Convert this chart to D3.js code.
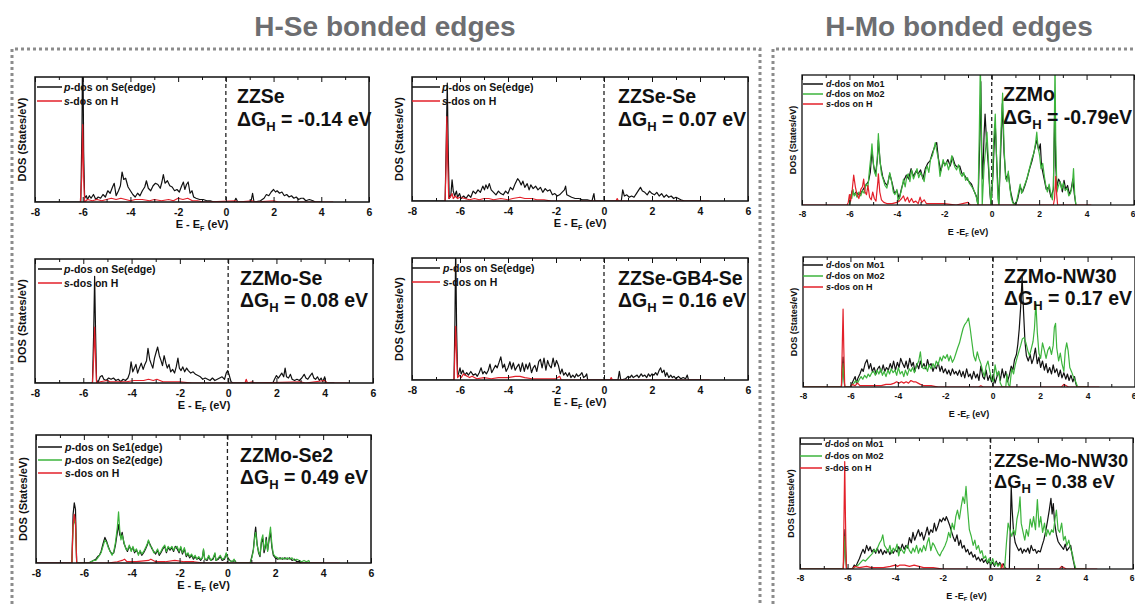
<!DOCTYPE html>
<html><head><meta charset="utf-8">
<script src="https://cdn.jsdelivr.net/npm/d3@7"></script>
<style>
body{margin:0;background:#fff}
svg{display:block}
text{font-family:"Liberation Sans",Arial,sans-serif;font-weight:bold}
</style>
</head><body>
<svg id="c" width="1135" height="604"></svg>
<script>
// ---------------- DATA (energy eV, DOS in % of panel height) ----------------
const groupTitles = ["H-Se bonded edges", "H-Mo bonded edges"];
const panelNames = ["ZZSe","ZZSe-Se","ZZMo-Se","ZZSe-GB4-Se","ZZMo-Se2","ZZMo","ZZMo-NW30","ZZSe-Mo-NW30"];
const deltaG = ["-0.14 eV","0.07 eV","0.08 eV","0.16 eV","0.49 eV","-0.79eV","0.17 eV","0.38 eV"];
const majorTicks = [-8,-6,-4,-2,0,2,4,6];
const minorTicks = [-7,-5,-3,-1,1,3,5];
const energyRange = [-8, 6];

const zzse_p = [[-8,0],[-6.08,0],[-6.03,60],[-6.0,140],[-5.96,40],[-5.92,3],[-5.85,5],[-5.8,2],[-5.72,5],[-5.65,3],[-5.55,6],[-5.45,2],[-5.35,4],[-5.25,3],[-5.15,6],[-5.05,4],[-4.95,9],[-4.85,7],[-4.75,12],[-4.68,15],[-4.6,5],[-4.5,9],[-4.42,13],[-4.35,24],[-4.28,18],[-4.2,19],[-4.1,12],[-4.0,9],[-3.9,6],[-3.8,4],[-3.7,7],[-3.6,5],[-3.5,9],[-3.4,12],[-3.33,17],[-3.25,11],[-3.15,9],[-3.05,13],[-2.95,15],[-2.85,14],[-2.75,11],[-2.68,16],[-2.62,22],[-2.55,15],[-2.45,17],[-2.35,13],[-2.25,12],[-2.15,9],[-2.05,10],[-1.95,8],[-1.85,13],[-1.78,16],[-1.72,10],[-1.65,14],[-1.58,16],[-1.5,7],[-1.42,9],[-1.35,4],[-1.25,3],[-1.1,2],[-0.95,2],[-0.8,1],[-0.65,1],[-0.5,0],[0.35,0],[0.42,3],[0.5,0],[1.05,0],[1.12,7],[1.18,0],[1.45,1],[1.6,3],[1.7,6],[1.8,5],[1.9,8],[2.0,10],[2.08,8],[2.15,9],[2.25,7],[2.35,8],[2.45,5],[2.55,6],[2.65,4],[2.75,5],[2.85,3],[2.95,4],[3.05,2],[3.15,3],[3.25,3],[3.35,1],[3.5,2],[3.65,1],[3.75,0],[4.0,0]];
const zzse_s = [[-6.1,0],[-6.04,20],[-6.0,62],[-5.96,20],[-5.92,0],[-5.8,2],[-5.6,1],[-5.4,2],[-5.2,1],[-5.0,2],[-4.8,3],[-4.6,2],[-4.4,3],[-4.2,2],[-4.0,1],[-3.8,2],[-3.5,2],[-3.2,1],[-3.0,2],[-2.7,1],[-2.4,2],[-2.2,1],[-2.0,3],[-1.8,2],[-1.6,3],[-1.4,1],[-1.2,1],[-0.9,0],[0.4,1],[0.5,0],[1.1,1],[1.2,0],[2.0,1],[2.2,0],[4.5,0]];

const zzsese_p = [[-8,0],[-6.62,0],[-6.57,50],[-6.53,95],[-6.49,40],[-6.45,2],[-6.38,5],[-6.33,17],[-6.28,8],[-6.22,4],[-6.15,8],[-6.1,3],[-6.02,6],[-5.95,2],[-5.85,4],[-5.75,2],[-5.65,5],[-5.55,3],[-5.45,8],[-5.35,6],[-5.25,9],[-5.15,7],[-5.05,12],[-4.98,9],[-4.92,13],[-4.85,10],[-4.78,14],[-4.7,9],[-4.6,7],[-4.5,5],[-4.4,8],[-4.3,6],[-4.2,5],[-4.1,8],[-4.0,6],[-3.9,11],[-3.8,9],[-3.7,14],[-3.6,18],[-3.52,16],[-3.45,13],[-3.38,16],[-3.3,11],[-3.2,14],[-3.12,9],[-3.05,13],[-2.95,10],[-2.85,12],[-2.75,9],[-2.65,11],[-2.55,7],[-2.45,10],[-2.35,8],[-2.25,9],[-2.15,5],[-2.05,6],[-1.95,4],[-1.85,5],[-1.75,7],[-1.65,9],[-1.6,12],[-1.55,5],[-1.45,4],[-1.35,3],[-1.2,2],[-1.05,2],[-0.9,1],[-0.7,1],[-0.5,0],[-0.45,4],[-0.42,6],[-0.38,0],[0.72,0],[0.78,9],[0.85,4],[0.95,5],[1.05,3],[1.15,4],[1.25,3],[1.35,6],[1.45,9],[1.52,11],[1.6,8],[1.7,7],[1.8,5],[1.9,8],[2.0,6],[2.1,5],[2.2,7],[2.3,4],[2.4,6],[2.5,3],[2.6,5],[2.7,3],[2.8,4],[2.9,2],[3.0,3],[3.1,2],[3.2,1],[3.35,0],[4.0,0]];
const zzsese_s = [[-6.62,0],[-6.58,30],[-6.55,68],[-6.51,30],[-6.47,2],[-6.4,3],[-6.33,6],[-6.28,2],[-6.2,4],[-6.1,2],[-6.0,3],[-5.8,2],[-5.6,1],[-5.4,2],[-5.2,1],[-5.0,2],[-4.8,2],[-4.6,1],[-4.3,2],[-4.0,1],[-3.8,2],[-3.5,3],[-3.3,2],[-3.0,2],[-2.8,1],[-2.5,1],[-2.2,0],[0.5,0],[0.55,2],[0.6,0],[4.4,0]];

const zzmose_p = [[-8,0],[-5.62,0],[-5.57,40],[-5.53,86],[-5.49,40],[-5.45,2],[-5.38,1],[-5.3,5],[-5.22,6],[-5.15,3],[-5.05,2],[-4.95,4],[-4.85,3],[-4.75,4],[-4.65,2],[-4.55,3],[-4.45,1],[-4.35,3],[-4.25,2],[-4.15,4],[-4.08,8],[-4.02,17],[-3.95,9],[-3.88,12],[-3.82,15],[-3.75,8],[-3.68,12],[-3.6,16],[-3.52,11],[-3.45,15],[-3.38,18],[-3.32,28],[-3.25,19],[-3.18,15],[-3.12,12],[-3.05,20],[-2.98,25],[-2.92,29],[-2.85,22],[-2.78,18],[-2.72,14],[-2.65,22],[-2.58,16],[-2.52,12],[-2.45,15],[-2.38,9],[-2.3,11],[-2.22,8],[-2.15,13],[-2.08,20],[-2.02,12],[-1.95,10],[-1.88,13],[-1.8,9],[-1.72,12],[-1.65,10],[-1.55,8],[-1.45,9],[-1.35,7],[-1.25,6],[-1.15,5],[-1.05,3],[-0.95,4],[-0.85,3],[-0.75,2],[-0.65,4],[-0.55,2],[-0.45,3],[-0.35,4],[-0.25,5],[-0.15,3],[-0.08,8],[-0.02,10],[0.05,6],[0.12,1],[0.2,0],[1.85,0],[1.92,3],[2.0,6],[2.08,4],[2.15,6],[2.22,8],[2.3,5],[2.36,12],[2.42,5],[2.5,4],[2.58,7],[2.65,3],[2.75,2],[2.85,3],[2.95,2],[3.05,4],[3.15,7],[3.22,4],[3.3,3],[3.4,6],[3.48,8],[3.55,4],[3.62,3],[3.7,5],[3.78,2],[3.85,4],[3.92,1],[4.0,5],[4.05,0],[4.4,0]];
const zzmose_s = [[-5.62,0],[-5.57,20],[-5.53,45],[-5.49,20],[-5.45,0],[-5.3,1],[-5.0,2],[-4.9,1],[-4.6,1],[-4.2,1],[-3.9,2],[-3.5,2],[-3.3,3],[-3.1,2],[-2.95,3],[-2.7,1],[-2.4,1],[-2.0,1],[-1.5,0],[0.7,0],[0.75,3],[0.8,0],[1.0,1],[1.1,0],[3.0,1],[3.2,0],[4.0,2],[4.1,0],[5.0,0]];

const gb4_p = [[-8,0],[-6.25,0],[-6.21,50],[-6.18,110],[-6.14,40],[-6.1,3],[-6.05,6],[-6.0,10],[-5.95,5],[-5.88,8],[-5.8,4],[-5.72,6],[-5.65,4],[-5.55,7],[-5.45,4],[-5.35,5],[-5.28,3],[-5.2,6],[-5.12,10],[-5.05,5],[-4.98,7],[-4.9,5],[-4.82,8],[-4.75,13],[-4.68,6],[-4.6,9],[-4.52,12],[-4.45,10],[-4.38,14],[-4.3,19],[-4.22,10],[-4.15,13],[-4.08,7],[-4.0,10],[-3.92,15],[-3.85,9],[-3.78,14],[-3.7,8],[-3.62,11],[-3.55,13],[-3.48,7],[-3.4,14],[-3.32,7],[-3.25,13],[-3.18,9],[-3.1,14],[-3.02,6],[-2.95,10],[-2.88,12],[-2.8,7],[-2.72,15],[-2.65,17],[-2.58,10],[-2.5,18],[-2.42,8],[-2.35,16],[-2.28,12],[-2.2,10],[-2.12,18],[-2.05,11],[-1.98,16],[-1.9,12],[-1.82,5],[-1.75,9],[-1.68,4],[-1.6,6],[-1.52,3],[-1.45,6],[-1.38,2],[-1.3,4],[-1.22,2],[-1.15,5],[-1.08,3],[-1.0,4],[-0.92,6],[-0.85,2],[-0.78,3],[-0.72,5],[-0.68,0],[0.58,0],[0.64,7],[0.7,0],[0.9,1],[1.0,3],[1.08,2],[1.15,4],[1.22,2],[1.3,3],[1.38,4],[1.45,2],[1.55,5],[1.62,3],[1.7,4],[1.78,2],[1.85,5],[1.92,3],[2.0,5],[2.08,4],[2.15,6],[2.22,4],[2.3,8],[2.36,10],[2.42,6],[2.5,8],[2.56,3],[2.62,6],[2.7,2],[2.78,4],[2.85,2],[2.92,3],[3.0,1],[3.1,3],[3.2,1],[3.3,2],[3.4,1],[3.47,4],[3.52,0],[4.0,0]];
const gb4_s = [[-6.25,0],[-6.21,25],[-6.18,44],[-6.14,20],[-6.1,2],[-6.02,4],[-5.95,2],[-5.85,5],[-5.78,4],[-5.7,3],[-5.6,2],[-5.5,3],[-5.3,1],[-5.0,2],[-4.7,1],[-4.4,2],[-4.0,2],[-3.7,3],[-3.5,3],[-3.3,2],[-3.0,1],[-2.5,1],[-2.0,1],[-1.85,3],[-1.78,0],[0.25,0],[0.3,2],[0.35,0],[4.4,0]];

const se2_p1 = [[-8,0],[-6.5,0],[-6.45,38],[-6.4,47],[-6.35,42],[-6.3,0],[-5.8,0],[-5.7,1],[-5.6,2],[-5.5,3],[-5.42,5],[-5.35,6],[-5.28,9],[-5.2,15],[-5.12,20],[-5.05,17],[-4.98,13],[-4.9,9],[-4.82,7],[-4.75,8],[-4.68,14],[-4.6,24],[-4.55,30],[-4.5,22],[-4.45,20],[-4.4,24],[-4.32,15],[-4.25,12],[-4.18,9],[-4.1,13],[-4.02,10],[-3.95,12],[-3.88,8],[-3.8,10],[-3.72,7],[-3.65,9],[-3.58,6],[-3.5,8],[-3.42,11],[-3.35,14],[-3.3,17],[-3.22,14],[-3.15,11],[-3.08,9],[-3.0,7],[-2.92,10],[-2.85,6],[-2.78,8],[-2.7,11],[-2.62,13],[-2.55,8],[-2.48,12],[-2.4,10],[-2.32,12],[-2.25,9],[-2.18,13],[-2.1,11],[-2.02,8],[-1.95,12],[-1.88,7],[-1.8,11],[-1.72,5],[-1.65,7],[-1.58,4],[-1.5,6],[-1.42,3],[-1.35,5],[-1.28,3],[-1.2,4],[-1.12,2],[-1.05,4],[-1.0,10],[-0.95,3],[-0.85,2],[-0.78,5],[-0.7,2],[-0.6,3],[-0.52,7],[-0.48,2],[-0.38,3],[-0.3,5],[-0.22,2],[-0.12,3],[-0.05,7],[0.02,4],[0.1,2],[0.2,1],[0.3,2],[0.38,0],[0.95,0],[1.02,5],[1.08,10],[1.14,22],[1.18,28],[1.24,15],[1.3,8],[1.36,5],[1.42,16],[1.48,19],[1.53,8],[1.58,12],[1.62,20],[1.68,10],[1.74,18],[1.8,24],[1.86,12],[1.92,6],[2.0,4],[2.1,3],[2.2,4],[2.3,3],[2.4,4],[2.5,3],[2.6,4],[2.7,2],[2.8,3],[2.9,1],[3.0,1],[3.1,0],[4.0,0]];
const se2_p2 = [[-6.5,0],[-6.45,28],[-6.4,34],[-6.35,30],[-6.3,0],[-5.8,0],[-5.7,1],[-5.6,2],[-5.5,2],[-5.42,4],[-5.35,6],[-5.28,8],[-5.2,13],[-5.12,18],[-5.05,16],[-4.98,12],[-4.9,9],[-4.82,6],[-4.75,9],[-4.68,16],[-4.6,28],[-4.55,40],[-4.5,26],[-4.45,18],[-4.4,22],[-4.32,16],[-4.25,11],[-4.18,10],[-4.1,14],[-4.02,9],[-3.95,13],[-3.88,9],[-3.8,11],[-3.72,6],[-3.65,10],[-3.58,7],[-3.5,9],[-3.42,12],[-3.35,15],[-3.3,18],[-3.22,13],[-3.15,12],[-3.08,8],[-3.0,8],[-2.92,11],[-2.85,7],[-2.78,9],[-2.7,12],[-2.62,14],[-2.55,9],[-2.48,13],[-2.4,11],[-2.32,13],[-2.25,10],[-2.18,12],[-2.1,13],[-2.02,9],[-1.95,13],[-1.88,8],[-1.8,12],[-1.72,6],[-1.65,8],[-1.58,5],[-1.5,7],[-1.42,4],[-1.35,6],[-1.28,3],[-1.2,5],[-1.12,3],[-1.05,4],[-1.0,11],[-0.95,3],[-0.85,3],[-0.78,6],[-0.7,2],[-0.6,4],[-0.52,8],[-0.48,2],[-0.38,4],[-0.3,6],[-0.22,3],[-0.12,4],[-0.05,8],[0.02,3],[0.1,2],[0.2,1],[0.28,3],[0.35,0],[0.95,0],[1.02,4],[1.08,9],[1.14,20],[1.18,24],[1.24,14],[1.3,9],[1.36,6],[1.42,18],[1.48,22],[1.53,10],[1.58,14],[1.62,18],[1.68,9],[1.74,20],[1.8,28],[1.86,14],[1.92,7],[2.0,5],[2.1,4],[2.2,3],[2.3,4],[2.4,3],[2.5,4],[2.6,3],[2.7,4],[2.8,2],[2.9,3],[3.0,2],[3.1,1],[3.2,2],[3.3,1],[3.4,2],[3.45,0]];
const se2_s = [[-8,0],[-6.5,0],[-6.45,30],[-6.4,38],[-6.35,32],[-6.3,0],[-5.0,0],[-4.6,1],[-4.4,2],[-4.3,3],[-4.2,1],[-3.8,1],[-3.3,2],[-3.2,3],[-3.0,1],[-2.6,1],[-2.2,2],[-1.8,1],[-1.4,1],[-1.0,0],[4.7,0]];

const zzmo_d1 = [[-6.0,0],[-5.95,6],[-5.88,11],[-5.8,8],[-5.72,10],[-5.62,8],[-5.52,9],[-5.42,12],[-5.32,15],[-5.2,18],[-5.12,25],[-5.05,42],[-4.98,30],[-4.9,24],[-4.82,35],[-4.78,50],[-4.7,32],[-4.6,22],[-4.5,17],[-4.4,15],[-4.3,24],[-4.2,17],[-4.1,9],[-4.0,11],[-3.9,5],[-3.8,13],[-3.7,19],[-3.6,23],[-3.5,20],[-3.4,28],[-3.3,22],[-3.2,26],[-3.1,24],[-3.0,27],[-2.9,20],[-2.8,28],[-2.7,32],[-2.6,34],[-2.5,40],[-2.4,45],[-2.32,48],[-2.25,36],[-2.15,26],[-2.05,33],[-1.95,31],[-1.85,35],[-1.75,30],[-1.65,37],[-1.55,31],[-1.45,29],[-1.35,30],[-1.25,24],[-1.15,23],[-1.05,20],[-0.95,18],[-0.85,16],[-0.75,11],[-0.65,7],[-0.58,0],[-0.5,50],[-0.46,95],[-0.42,40],[-0.38,20],[-0.32,55],[-0.28,70],[-0.22,50],[-0.14,30],[-0.08,10],[-0.03,0],[0.05,22],[0.1,45],[0.15,62],[0.22,30],[0.3,0],[0.38,42],[0.45,78],[0.52,40],[0.6,20],[0.7,24],[0.8,10],[0.9,2],[1.0,0],[1.1,5],[1.2,14],[1.3,10],[1.4,15],[1.5,21],[1.6,28],[1.7,34],[1.8,42],[1.9,50],[1.98,42],[2.05,47],[2.1,30],[2.2,21],[2.3,12],[2.4,14],[2.5,6],[2.6,12],[2.66,80],[2.7,30],[2.75,14],[2.82,20],[2.9,17],[2.98,10],[3.05,19],[3.12,12],[3.2,15],[3.28,8],[3.35,12],[3.42,20],[3.48,9],[3.55,0]];
const zzmo_d2 = [[-6.0,0],[-5.95,8],[-5.9,5],[-5.85,12],[-5.8,7],[-5.75,9],[-5.68,6],[-5.6,10],[-5.52,7],[-5.45,11],[-5.38,9],[-5.3,16],[-5.22,14],[-5.15,28],[-5.08,40],[-5.05,47],[-5.0,34],[-4.95,26],[-4.88,22],[-4.82,38],[-4.78,55],[-4.72,36],[-4.65,24],[-4.58,20],[-4.5,15],[-4.42,13],[-4.35,20],[-4.3,25],[-4.22,18],[-4.15,10],[-4.08,8],[-4.0,12],[-3.95,3],[-3.88,6],[-3.8,12],[-3.72,20],[-3.65,14],[-3.58,22],[-3.52,24],[-3.45,18],[-3.38,27],[-3.3,20],[-3.22,24],[-3.15,28],[-3.08,21],[-3.0,25],[-2.92,22],[-2.85,18],[-2.78,27],[-2.72,30],[-2.65,25],[-2.58,35],[-2.5,38],[-2.45,42],[-2.38,48],[-2.3,40],[-2.25,35],[-2.18,22],[-2.12,28],[-2.05,35],[-1.98,30],[-1.9,33],[-1.82,27],[-1.75,32],[-1.68,38],[-1.62,33],[-1.55,29],[-1.48,27],[-1.4,31],[-1.32,24],[-1.25,22],[-1.18,25],[-1.1,19],[-1.02,21],[-0.95,17],[-0.88,15],[-0.8,13],[-0.72,10],[-0.65,6],[-0.58,0],[-0.52,60],[-0.48,110],[-0.44,60],[-0.4,0],[-0.32,30],[-0.25,45],[-0.2,56],[-0.14,35],[-0.08,12],[-0.03,0],[0.03,18],[0.08,48],[0.15,70],[0.2,38],[0.26,5],[0.3,0],[0.36,40],[0.42,70],[0.46,86],[0.52,45],[0.58,22],[0.64,18],[0.7,26],[0.76,14],[0.82,6],[0.88,2],[0.95,0],[1.05,3],[1.12,9],[1.2,16],[1.26,9],[1.32,12],[1.4,16],[1.48,20],[1.55,25],[1.62,30],[1.7,36],[1.78,40],[1.85,48],[1.9,56],[1.95,45],[2.02,38],[2.08,28],[2.15,32],[2.22,22],[2.28,15],[2.35,10],[2.42,16],[2.5,8],[2.56,4],[2.6,15],[2.64,60],[2.67,110],[2.7,50],[2.75,10],[2.8,14],[2.88,18],[2.95,12],[3.02,17],[3.1,11],[3.18,13],[3.25,7],[3.32,9],[3.4,15],[3.45,28],[3.5,8],[3.55,0]];
const zzmo_s = [[-8,0],[-6.1,0],[-6.05,2],[-6.0,8],[-5.95,3],[-5.88,12],[-5.82,23],[-5.75,14],[-5.68,8],[-5.6,5],[-5.52,12],[-5.45,14],[-5.4,20],[-5.34,10],[-5.28,8],[-5.22,15],[-5.15,6],[-5.08,4],[-5.02,10],[-4.95,5],[-4.88,3],[-4.8,18],[-4.78,24],[-4.72,10],[-4.65,4],[-4.55,2],[-4.4,1],[-4.2,1],[-4.0,2],[-3.9,3],[-3.8,5],[-3.72,7],[-3.65,3],[-3.55,6],[-3.48,2],[-3.38,5],[-3.3,2],[-3.2,3],[-3.1,1],[-3.02,6],[-2.95,2],[-2.85,4],[-2.75,1],[-2.5,1],[-2.0,1],[-1.5,0],[-1.0,2],[-0.9,0],[2.6,0],[2.65,5],[2.7,22],[2.74,8],[2.78,0],[4.2,0]];

const nw30_d1 = [[-8,0],[-6.38,0],[-6.34,15],[-6.31,23],[-6.28,10],[-6.24,0],[-6.0,0],[-5.95,2],[-5.88,5],[-5.8,8],[-5.75,3],[-5.68,7],[-5.6,10],[-5.52,14],[-5.46,12],[-5.38,18],[-5.3,21],[-5.22,14],[-5.15,18],[-5.08,12],[-5.0,15],[-4.92,10],[-4.85,14],[-4.78,16],[-4.7,11],[-4.62,17],[-4.55,12],[-4.48,15],[-4.4,13],[-4.32,18],[-4.25,14],[-4.18,20],[-4.1,13],[-4.02,19],[-3.95,15],[-3.88,22],[-3.8,18],[-3.72,15],[-3.65,20],[-3.58,14],[-3.5,22],[-3.42,16],[-3.35,19],[-3.28,12],[-3.2,18],[-3.12,14],[-3.05,20],[-2.98,15],[-2.9,18],[-2.82,14],[-2.75,21],[-2.68,16],[-2.6,18],[-2.52,12],[-2.45,16],[-2.38,14],[-2.3,19],[-2.22,12],[-2.15,16],[-2.08,11],[-2.0,14],[-1.92,10],[-1.85,13],[-1.78,9],[-1.7,14],[-1.62,10],[-1.55,12],[-1.48,9],[-1.4,13],[-1.32,8],[-1.25,12],[-1.18,7],[-1.1,14],[-1.02,8],[-0.95,10],[-0.88,6],[-0.8,12],[-0.72,7],[-0.65,10],[-0.58,5],[-0.5,16],[-0.42,8],[-0.35,6],[-0.28,13],[-0.2,5],[-0.12,9],[-0.05,4],[0.02,10],[0.1,3],[0.18,8],[0.25,12],[0.32,5],[0.4,14],[0.48,7],[0.55,12],[0.62,4],[0.7,9],[0.78,16],[0.85,13],[0.92,21],[1.0,25],[1.06,33],[1.12,45],[1.18,62],[1.24,85],[1.3,58],[1.36,35],[1.42,24],[1.5,20],[1.58,25],[1.65,18],[1.72,22],[1.8,30],[1.88,18],[1.95,23],[2.02,15],[2.1,20],[2.18,13],[2.25,18],[2.32,11],[2.4,15],[2.48,10],[2.55,17],[2.62,11],[2.7,14],[2.78,8],[2.85,13],[2.92,7],[3.0,11],[3.08,6],[3.15,10],[3.22,5],[3.3,9],[3.38,4],[3.45,8],[3.5,3],[3.55,0],[4.0,0]];
const nw30_d2 = [[-8,0],[-6.38,0],[-6.34,12],[-6.31,18],[-6.28,8],[-6.24,0],[-6.0,0],[-5.92,2],[-5.85,3],[-5.78,5],[-5.7,3],[-5.62,6],[-5.55,8],[-5.48,6],[-5.4,9],[-5.32,7],[-5.25,10],[-5.18,8],[-5.1,11],[-5.02,12],[-4.95,9],[-4.88,13],[-4.8,10],[-4.72,14],[-4.65,9],[-4.58,12],[-4.5,8],[-4.42,13],[-4.35,10],[-4.28,14],[-4.2,11],[-4.12,13],[-4.05,9],[-3.98,15],[-3.9,10],[-3.82,12],[-3.75,8],[-3.68,13],[-3.6,9],[-3.52,14],[-3.45,12],[-3.38,15],[-3.3,11],[-3.22,16],[-3.12,20],[-3.05,27],[-2.98,15],[-2.9,14],[-2.82,16],[-2.75,12],[-2.68,17],[-2.6,14],[-2.52,18],[-2.45,15],[-2.38,20],[-2.3,17],[-2.22,23],[-2.15,20],[-2.08,24],[-2.0,22],[-1.92,25],[-1.85,20],[-1.78,24],[-1.7,19],[-1.62,22],[-1.55,26],[-1.48,30],[-1.4,34],[-1.32,40],[-1.25,45],[-1.18,48],[-1.1,50],[-1.02,53],[-0.95,45],[-0.88,35],[-0.8,24],[-0.72,20],[-0.65,27],[-0.58,22],[-0.5,18],[-0.42,12],[-0.35,8],[-0.28,16],[-0.2,20],[-0.12,12],[-0.05,6],[0.02,4],[0.1,17],[0.18,9],[0.25,12],[0.32,3],[0.4,0],[0.55,0],[0.6,10],[0.66,2],[0.72,0],[0.8,14],[0.88,10],[0.95,17],[1.02,22],[1.1,27],[1.18,32],[1.25,37],[1.32,38],[1.4,34],[1.48,28],[1.55,24],[1.62,29],[1.7,35],[1.76,45],[1.82,65],[1.88,42],[1.95,26],[2.02,22],[2.1,34],[2.18,28],[2.25,22],[2.32,28],[2.4,31],[2.48,25],[2.55,32],[2.6,46],[2.65,49],[2.7,30],[2.78,20],[2.85,26],[2.92,18],[3.0,12],[3.06,28],[3.12,34],[3.18,28],[3.25,15],[3.32,12],[3.4,8],[3.5,4],[3.58,0],[4.0,0]];
const nw30_s = [[-8,0],[-6.38,0],[-6.34,35],[-6.31,60],[-6.28,30],[-6.24,0],[-6.0,0],[-5.92,2],[-5.8,1],[-5.7,3],[-5.6,1],[-5.3,1],[-5.0,1],[-4.7,1],[-4.5,2],[-4.3,2],[-4.15,3],[-4.05,4],[-3.95,3],[-3.85,4],[-3.75,3],[-3.65,4],[-3.55,3],[-3.45,5],[-3.35,4],[-3.25,4],[-3.15,3],[-3.05,2],[-2.9,1],[-2.6,1],[-2.3,0],[-0.6,0],[-0.5,1],[-0.4,0],[2.9,0],[3.0,2],[3.1,1],[3.2,0],[4.5,0]];

const senw_d1 = [[-8,0],[-6.18,0],[-6.14,18],[-6.11,30],[-6.08,12],[-6.04,0],[-5.8,0],[-5.72,3],[-5.65,2],[-5.58,5],[-5.5,8],[-5.42,12],[-5.35,15],[-5.28,12],[-5.2,18],[-5.12,14],[-5.05,17],[-4.98,13],[-4.9,15],[-4.82,12],[-4.75,16],[-4.68,12],[-4.6,15],[-4.52,11],[-4.45,14],[-4.38,12],[-4.3,15],[-4.22,11],[-4.15,14],[-4.08,12],[-4.0,15],[-3.92,13],[-3.85,17],[-3.78,14],[-3.7,19],[-3.62,15],[-3.55,18],[-3.48,16],[-3.4,24],[-3.32,20],[-3.25,28],[-3.18,22],[-3.1,26],[-3.02,30],[-2.95,25],[-2.88,28],[-2.8,22],[-2.72,27],[-2.65,32],[-2.58,26],[-2.5,30],[-2.42,28],[-2.35,35],[-2.28,29],[-2.2,33],[-2.12,38],[-2.05,36],[-1.98,39],[-1.9,37],[-1.85,40],[-1.78,37],[-1.7,33],[-1.62,28],[-1.55,24],[-1.48,21],[-1.4,26],[-1.32,18],[-1.25,22],[-1.18,16],[-1.1,18],[-1.02,13],[-0.95,15],[-0.88,11],[-0.8,13],[-0.72,9],[-0.65,11],[-0.58,7],[-0.5,9],[-0.42,6],[-0.35,8],[-0.28,5],[-0.2,7],[-0.12,4],[-0.05,6],[0.02,3],[0.1,5],[0.18,2],[0.25,6],[0.32,3],[0.4,5],[0.48,2],[0.55,4],[0.62,1],[0.7,0],[0.8,0],[0.84,30],[0.88,63],[0.92,45],[0.98,28],[1.05,20],[1.12,17],[1.2,14],[1.28,16],[1.35,12],[1.42,15],[1.5,13],[1.58,16],[1.65,12],[1.72,18],[1.8,14],[1.88,15],[1.95,12],[2.02,14],[2.1,13],[2.18,18],[2.25,22],[2.32,28],[2.4,36],[2.48,45],[2.55,54],[2.6,42],[2.65,50],[2.7,36],[2.78,26],[2.85,21],[2.92,19],[3.0,17],[3.08,15],[3.15,19],[3.22,14],[3.3,16],[3.38,18],[3.45,10],[3.52,4],[3.56,0],[4.0,0]];
const senw_d2 = [[-8,0],[-6.18,0],[-6.14,15],[-6.11,25],[-6.08,10],[-6.04,0],[-5.8,0],[-5.65,2],[-5.55,3],[-5.45,5],[-5.35,7],[-5.25,6],[-5.15,8],[-5.05,10],[-4.95,12],[-4.88,15],[-4.8,13],[-4.72,17],[-4.65,20],[-4.58,22],[-4.52,26],[-4.45,18],[-4.38,16],[-4.3,13],[-4.22,18],[-4.15,12],[-4.08,16],[-4.0,14],[-3.92,19],[-3.85,10],[-3.78,16],[-3.7,14],[-3.62,12],[-3.55,16],[-3.48,18],[-3.4,14],[-3.32,12],[-3.25,16],[-3.18,13],[-3.1,18],[-3.02,12],[-2.95,16],[-2.88,13],[-2.8,18],[-2.72,14],[-2.65,20],[-2.58,24],[-2.5,14],[-2.42,20],[-2.35,18],[-2.28,15],[-2.2,12],[-2.12,10],[-2.05,13],[-1.98,15],[-1.9,18],[-1.82,22],[-1.75,28],[-1.68,24],[-1.6,35],[-1.52,30],[-1.45,40],[-1.38,45],[-1.3,38],[-1.22,48],[-1.15,55],[-1.08,50],[-1.02,63],[-0.95,45],[-0.88,30],[-0.8,25],[-0.72,18],[-0.65,22],[-0.58,15],[-0.5,18],[-0.42,12],[-0.35,14],[-0.28,8],[-0.2,10],[-0.12,5],[-0.05,8],[0.02,3],[0.1,8],[0.18,3],[0.25,5],[0.32,2],[0.4,4],[0.48,0],[0.6,0],[0.68,20],[0.75,35],[0.82,30],[0.9,25],[0.98,30],[1.05,26],[1.12,38],[1.2,45],[1.25,55],[1.3,35],[1.38,28],[1.45,22],[1.52,30],[1.6,25],[1.68,38],[1.75,32],[1.82,40],[1.9,30],[1.98,53],[2.05,32],[2.12,40],[2.2,28],[2.28,35],[2.35,25],[2.42,30],[2.5,26],[2.58,30],[2.65,28],[2.72,38],[2.78,45],[2.85,30],[2.92,28],[3.0,35],[3.08,22],[3.15,25],[3.22,18],[3.3,22],[3.38,15],[3.45,12],[3.52,5],[3.6,0],[4.0,0]];
const senw_s = [[-8,0],[-6.18,0],[-6.15,40],[-6.12,82],[-6.09,40],[-6.05,0],[-5.8,0],[-5.7,2],[-5.5,1],[-5.2,2],[-5.0,1],[-4.5,1],[-4.2,2],[-4.0,3],[-3.9,2],[-3.8,3],[-3.6,3],[-3.4,2],[-3.2,3],[-3.0,2],[-2.8,1],[-2.4,1],[-2.0,0],[0.45,0],[0.5,4],[0.55,0],[2.9,0],[3.0,2],[3.1,1],[3.2,0],[4.5,0]];

// legend labels: [italic prefix, rest]
const legendSe = [["p","-dos on Se(edge)"],["s","-dos on H"]];
const legendSe2 = [["p","-dos on Se1(edge)"],["p","-dos on Se2(edge)"],["s","-dos on H"]];
const legendMo = [["d","-dos on Mo1"],["d","-dos on Mo2"],["s","-dos on H"]];

// ---------------- STYLE / LAYOUT ----------------
const BLACK = "#111", RED = "#e3202a", GREEN = "#3cb43c", GRAY = "#6d6e71";

const seriesByPanel = [
  [[zzse_p,BLACK],[zzse_s,RED]],
  [[zzsese_p,BLACK],[zzsese_s,RED]],
  [[zzmose_p,BLACK],[zzmose_s,RED]],
  [[gb4_p,BLACK],[gb4_s,RED]],
  [[se2_p1,BLACK],[se2_p2,GREEN],[se2_s,RED]],
  [[zzmo_d1,BLACK],[zzmo_d2,GREEN],[zzmo_s,RED]],
  [[nw30_d1,BLACK],[nw30_d2,GREEN],[nw30_s,RED]],
  [[senw_d1,BLACK],[senw_d2,GREEN],[senw_s,RED]]
];
const legendByPanel = [
  [[legendSe[0],BLACK],[legendSe[1],RED]],
  [[legendSe[0],BLACK],[legendSe[1],RED]],
  [[legendSe[0],BLACK],[legendSe[1],RED]],
  [[legendSe[0],BLACK],[legendSe[1],RED]],
  [[legendSe2[0],BLACK],[legendSe2[1],GREEN],[legendSe2[2],RED]],
  [[legendMo[0],BLACK],[legendMo[1],GREEN],[legendMo[2],RED]],
  [[legendMo[0],BLACK],[legendMo[1],GREEN],[legendMo[2],RED]],
  [[legendMo[0],BLACK],[legendMo[1],GREEN],[legendMo[2],RED]]
];

const leftStyle = {tick:10.5, xt:11, yl:11, leg:10.5, lblOff:7, titOff:26, ylOff:9, frame:1.5, xtitle:"E - E", right:false};
const rightStyle = {tick:8.5, xt:9, yl:9, leg:9, lblOff:6, titOff:30, ylOff:6, frame:1.3, xtitle:"E -E", right:true};

const layout = [
  {l:35, r:369, t:77, b:202, lx0:37, lx1:62, tx:64, ly:87, ldy:14, ax:237, ay1:103, ay2:126, af:19.5, s:leftStyle},
  {l:412, r:748, t:77, b:201, lx0:412, lx1:440, tx:442, ly:87, ldy:14, ax:618, ay1:103, ay2:126, af:19.5, s:leftStyle},
  {l:35, r:373, t:259, b:383, lx0:38, lx1:62, tx:64, ly:269, ldy:14, ax:240, ay1:285, ay2:307, af:19.5, s:leftStyle},
  {l:412, r:748, t:258, b:380, lx0:412, lx1:440, tx:443, ly:268, ldy:14, ax:618, ay1:285, ay2:307, af:19.5, s:leftStyle},
  {l:36, r:371, t:435, b:563, lx0:38, lx1:62, tx:65, ly:447, ldy:13, ax:240, ay1:462, ay2:484, af:19.5, s:leftStyle},
  {l:802, r:1134, t:75, b:205, lx0:803, lx1:823, tx:826, ly:84, ldy:10, ax:1003, ay1:101, ay2:124, af:19.5, s:rightStyle},
  {l:803, r:1135, t:257, b:387, lx0:803, lx1:823, tx:826, ly:265, ldy:11, ax:1004, ay1:283, ay2:305, af:19.5, s:rightStyle},
  {l:800, r:1133, t:438, b:569, lx0:800, lx1:822, tx:825, ly:444, ldy:12, ax:994, ay1:467, ay2:488, af:18.3, s:rightStyle}
];

// ---------------- DRAW ----------------
const svg = d3.select("#c");

// group frames (dotted)
svg.append("path").attr("d","M12,610 V49 H760 V610")
  .attr("fill","none").attr("stroke","#8c8c8c").attr("stroke-width",3).attr("stroke-dasharray","3,3");
svg.append("path").attr("d","M773,610 V49 H1140")
  .attr("fill","none").attr("stroke","#8c8c8c").attr("stroke-width",3).attr("stroke-dasharray","3,3");

svg.selectAll("text.gt").data(groupTitles).enter().append("text")
  .attr("class","gt").attr("x",(d,i)=> i===0 ? 385 : 959).attr("y",36)
  .attr("text-anchor","middle").attr("font-size",28).attr("fill",GRAY).text(d=>d);

layout.forEach((L,i)=>{
  const S = L.s;
  const x = d3.scaleLinear().domain(energyRange).range([L.l, L.r]);
  const y = d3.scaleLinear().domain([0,100]).range([L.b, L.t]);
  const g = svg.append("g");
  const cid = "clip"+i;
  g.append("clipPath").attr("id",cid).append("rect")
    .attr("x",L.l).attr("y",L.t).attr("width",L.r-L.l).attr("height",L.b-L.t);

  // Fermi level dashed line
  g.append("line").attr("x1",x(0)).attr("x2",x(0)).attr("y1",L.t).attr("y2",L.b)
    .attr("stroke","#222").attr("stroke-width",1.3).attr("stroke-dasharray","4,3");

  const line = d3.line().x(d=>x(d[0])).y(d=>y(d[1]));
  seriesByPanel[i].forEach(([data,color])=>{
    g.append("path").attr("d",line(data)).attr("fill","none").attr("stroke",color)
      .attr("stroke-width",1.2).attr("stroke-linejoin","round").attr("clip-path",`url(#${cid})`);
  });

  // frame
  g.append("rect").attr("x",L.l).attr("y",L.t).attr("width",L.r-L.l).attr("height",L.b-L.t)
    .attr("fill","none").attr("stroke","#111").attr("stroke-width",S.frame);

  // axes (inward ticks)
  const bot = g.append("g").attr("transform",`translate(0,${L.b})`)
    .call(d3.axisBottom(x).tickValues(majorTicks).tickSize(-5).tickPadding(S.lblOff).tickFormat(d=>String(d)));
  bot.select(".domain").remove();
  bot.selectAll("text").attr("font-size",S.tick).attr("font-family","Liberation Sans, Arial, sans-serif").attr("font-weight","bold").attr("fill","#111");
  if (S.right) bot.selectAll("text").filter(d=>d===6).attr("text-anchor","end").attr("dx","0.1em");
  bot.selectAll("line").attr("stroke","#111");
  const botm = g.append("g").attr("transform",`translate(0,${L.b})`)
    .call(d3.axisBottom(x).tickValues(minorTicks).tickSize(-3).tickFormat(""));
  botm.select(".domain").remove(); botm.selectAll("line").attr("stroke","#111");
  const top = g.append("g").attr("transform",`translate(0,${L.t})`)
    .call(d3.axisTop(x).tickValues(majorTicks).tickSize(-5).tickFormat(""));
  top.select(".domain").remove(); top.selectAll("line").attr("stroke","#111");
  const topm = g.append("g").attr("transform",`translate(0,${L.t})`)
    .call(d3.axisTop(x).tickValues(minorTicks).tickSize(-3).tickFormat(""));
  topm.select(".domain").remove(); topm.selectAll("line").attr("stroke","#111");

  // x title
  const xt = g.append("text").attr("x",(L.l+L.r)/2).attr("y",L.b+S.titOff)
    .attr("text-anchor","middle").attr("font-size",S.xt).attr("fill","#111");
  xt.append("tspan").text(S.xtitle);
  xt.append("tspan").attr("font-size",S.xt*0.65).attr("dy",S.xt*0.25).text("F");
  xt.append("tspan").attr("dy",-S.xt*0.25).text(" (eV)");

  // y title
  g.append("text").attr("transform",`translate(${L.l-S.ylOff},${(L.t+L.b)/2}) rotate(-90)`)
    .attr("text-anchor","middle").attr("font-size",S.yl).attr("fill","#111").text("DOS (States/eV)");

  // legend
  legendByPanel[i].forEach(([lab,color],k)=>{
    const yy = L.ly + k*L.ldy;
    g.append("line").attr("x1",L.lx0).attr("x2",L.lx1).attr("y1",yy).attr("y2",yy)
      .attr("stroke",color).attr("stroke-width",1.5);
    const t = g.append("text").attr("x",L.tx).attr("y",yy).attr("dy","0.35em")
      .attr("font-size",S.leg).attr("fill","#111");
    t.append("tspan").attr("font-style","italic").text(lab[0]);
    t.append("tspan").text(lab[1]);
  });

  // annotation
  g.append("text").attr("x",L.ax).attr("y",L.ay1).attr("font-size",L.af).attr("fill","#111").text(panelNames[i]);
  const a2 = g.append("text").attr("x",L.ax).attr("y",L.ay2).attr("font-size",L.af).attr("fill","#111");
  a2.append("tspan").text("\u0394G");
  a2.append("tspan").attr("font-size",13).attr("dy",5).text("H");
  a2.append("tspan").attr("dy",-5).text(" = " + deltaG[i]);
});
</script>
</body></html>
